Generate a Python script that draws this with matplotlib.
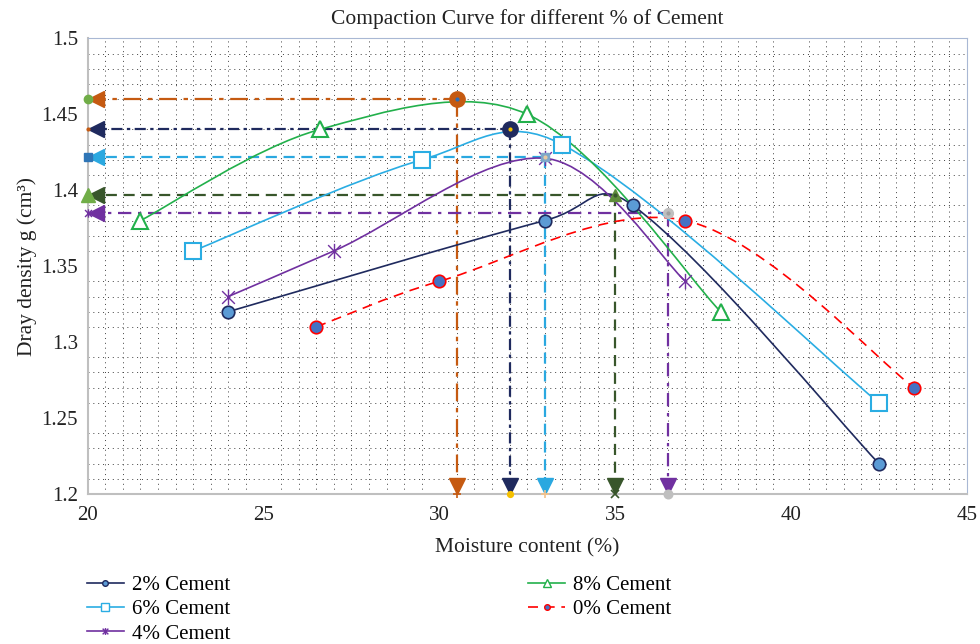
import numpy as np
import matplotlib.pyplot as plt
from matplotlib.path import Path
from matplotlib.patches import PathPatch
from matplotlib.lines import Line2D
from matplotlib.transforms import offset_copy

plt.rcParams['font.family'] = ['Liberation Serif', 'DejaVu Serif']

# Data
x_2 = [24, 33, 35.5, 42.5]
y_2 = [1.32, 1.38, 1.39, 1.22]
x_6 = [23, 29.5, 33.5, 42.5]
y_6 = [1.36, 1.42, 1.43, 1.26]
x_4 = [24, 27, 33, 37]
y_4 = [1.33, 1.36, 1.421, 1.34]
x_8 = [21.5, 26.6, 32.5, 38]
y_8 = [1.38, 1.44, 1.45, 1.32]
x_0 = [26.5, 30, 37, 43.5]
y_0 = [1.31, 1.34, 1.38, 1.27]

# optimum moisture content / max dry density guide lines
peak_x = [30.5, 32, 33, 35, 36.5]
peak_y = [1.46, 1.44, 1.422, 1.397, 1.385]

x_ticks = [20, 25, 30, 35, 40, 45]
y_ticks = [1.2, 1.25, 1.3, 1.35, 1.4, 1.45, 1.5]


def smooth_path(ax, xs, ys):
    # Excel-like smoothed line, built in screen space as cubic Bezier segments
    tr = ax.transData
    p = tr.transform(np.column_stack([xs, ys]))
    p = np.vstack([p[0], p, p[-1]])
    d = np.hypot(*np.diff(p, axis=0).T)
    verts = [p[1]]
    codes = [Path.MOVETO]
    for i in range(1, len(p) - 2):
        s1 = 0.5 * (1 + 2 * d[i] / max(d[i - 1] + d[i], 1e-9)) if d[i - 1] > 0 else 1
        s2 = 0.5 * (1 + 2 * d[i] / max(d[i] + d[i + 1], 1e-9)) if d[i + 1] > 0 else 1
        c1 = p[i] + s1 * (p[i + 1] - p[i - 1]) / 6
        c2 = p[i + 1] - s2 * (p[i + 2] - p[i]) / 6
        verts += [c1, c2, p[i + 1]]
        codes += [Path.CURVE4] * 3
    return Path(tr.inverted().transform(np.array(verts)), codes)


star = Path([(-1, -1), (1, 1), (-1, 1), (1, -1), (0, -1.2), (0, 1.2)],
            [Path.MOVETO, Path.LINETO, Path.MOVETO, Path.LINETO, Path.MOVETO, Path.LINETO])

series = [
    ('2% Cement', x_2, y_2, dict(color='#1F2A5E', ls='-', marker='o', ms=9, mfc='#5B9BD5', mec='#1F2A5E', mew=1.2)),
    ('6% Cement', x_6, y_6, dict(color='#2AADE3', ls='-', marker='s', ms=12, mfc='white', mec='#2AADE3', mew=1.5)),
    ('4% Cement', x_4, y_4, dict(color='#7030A0', ls='-', marker=star, ms=11, mfc='none', mec='#7030A0', mew=1.0)),
    ('8% Cement', x_8, y_8, dict(color='#22B04B', ls='-', marker='^', ms=12, mfc='white', mec='#22B04B', mew=1.5)),
    ('0% Cement', x_0, y_0, dict(color='#FF0000', ls=(0, (6, 4)), marker='o', ms=9, mfc='#4472C4', mec='#FF0000', mew=1.2)),
]

guide_colors = ['#C55A11', '#1F2A5E', '#2AA8E0', '#38562B', '#7030A0']
guide_styles = [(0, (8, 3, 2, 3)), (0, (5, 2, 1.5, 2)), (0, (5, 3)), (0, (5, 3)), (0, (6, 3, 1.5, 3))]
guide_center = [('o', '#C55A11', 11), ('o', '#1F2A5E', 11), ('s', '#7FA7C9', 6), ('^', '#5E8C3A', 8), ('o', '#BFBFBF', 7)]
center_dot = ['#2E6DB4', '#F5C000', '#E8C9A0', '#38562B', '#9E9E9E']
left_marks = [('o', '#70AD47', 6), ('o', '#C55A11', 2), ('s', '#2E75B6', 6), ('^', '#70AD47', 10), (star, '#7030A0', 6)]
bottom_marks = [('+', '#C55A11', 6), ('o', '#F5C000', 4), ('+', '#F4C28A', 6), ('x', '#38562B', 6), ('o', '#BFBFBF', 6)]

fig = plt.figure(figsize=(9.8, 6.44), dpi=100)
ax = fig.add_axes([0.0895, 0.233, 0.897, 0.7075])
ax.set_xlim(20, 45)
ax.set_ylim(1.2, 1.5)

# dotted grid
ax.set_xticks(np.arange(20, 45.01, 0.5), minor=True)
ax.set_yticks(np.arange(1.2, 1.5001, 0.01), minor=True)
ax.grid(which='minor', color='#404040', linestyle=(0, (1, 4)), linewidth=0.7)
ax.set_axisbelow(True)

# guide lines with arrow heads
to_right = offset_copy(ax.transData, fig=fig, x=6, y=0, units='points')
to_up = offset_copy(ax.transData, fig=fig, x=0, y=6, units='points')
x0, y0 = ax.get_xlim()[0], ax.get_ylim()[0]
for i in range(len(peak_x)):
    px, py, c = peak_x[i], peak_y[i], guide_colors[i]
    ax.plot([x0, px], [py, py], color=c, ls=guide_styles[i], lw=1.6, zorder=2)
    ax.plot([px, px], [py, y0], color=c, ls=guide_styles[i], lw=1.6, zorder=2)
    ax.plot([x0], [py], marker='<', ms=12, color=c, transform=to_right, zorder=3, clip_on=False)
    ax.plot([px], [y0], marker='v', ms=12, color=c, transform=to_up, zorder=3, clip_on=False)
    m, mc, s = left_marks[i]
    ax.plot([x0], [py], marker=m, ms=s, color=mc, mec=mc, zorder=3, clip_on=False)
    m, mc, s = bottom_marks[i]
    ax.plot([px], [y0], marker=m, ms=s, color=mc, mec=mc, mew=1.2, zorder=3, clip_on=False)

# series curves
handles = []
for label, xs, ys, st in series:
    patch = PathPatch(smooth_path(ax, xs, ys), fill=False, edgecolor=st['color'],
                      linestyle=st['ls'], linewidth=1.2, zorder=4)
    ax.add_patch(patch)
    ax.plot(xs, ys, ls='none', marker=st['marker'], ms=st['ms'], mfc=st['mfc'],
            mec=st['mec'], mew=st['mew'], zorder=5)
    handles.append(Line2D([], [], color=st['color'], ls=st['ls'], lw=1.2, marker=st['marker'],
                          ms=st['ms'] * 0.45, mfc=st['mfc'], mec=st['mec'], mew=1.0, label=label))

# peak markers
for i in range(len(peak_x)):
    m, mc, s = guide_center[i]
    ax.plot([peak_x[i]], [peak_y[i]], marker=m, ms=s, color=mc, mec=mc, zorder=6)
    ax.plot([peak_x[i]], [peak_y[i]], marker='o', ms=3, color=center_dot[i], mec='none', zorder=6)

ax.set_xticks(x_ticks)
ax.set_yticks(y_ticks)
ax.set_yticklabels(['%g' % v for v in y_ticks])
ax.tick_params(which='both', length=0, labelsize=15, colors='#222222')
ax.tick_params(axis='x', pad=9)
ax.tick_params(axis='y', pad=7)
for side in ['top', 'right']:
    ax.spines[side].set_color('#A9B8D4')
for side in ['left', 'bottom']:
    ax.spines[side].set_color('#BFBFBF')
    ax.spines[side].set_linewidth(1.5)

ax.set_title('Compaction Curve for different % of Cement', fontsize=15.5, pad=10, color='#222222')
ax.set_xlabel('Moisture content (%)', fontsize=15.5, labelpad=9, color='#222222')
ax.set_ylabel('Dray density g (cm³)', fontsize=15.5, labelpad=3, color='#222222')

fig.legend(handles=handles, ncol=2, loc='upper left', bbox_to_anchor=(0.089, 0.106),
           frameon=False, fontsize=15, columnspacing=14.3, handlelength=1.75,
           handletextpad=0.4, labelspacing=0.22, borderaxespad=0, borderpad=0)

fig.savefig('out.png', dpi=100)
